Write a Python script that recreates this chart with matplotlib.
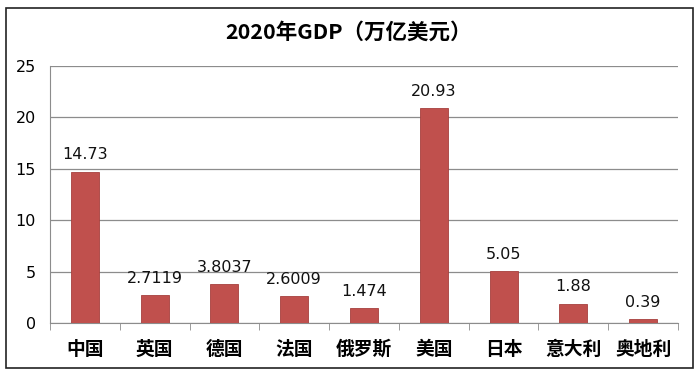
import matplotlib.pyplot as plt
from matplotlib.patches import Rectangle

plt.rcParams['font.family'] = ['Noto Sans CJK SC', 'DejaVu Sans']

countries = ["中国", "英国", "德国", "法国", "俄罗斯", "美国", "日本", "意大利", "奥地利"]
gdp = [14.73, 2.7119, 3.8037, 2.6009, 1.474, 20.93, 5.05, 1.88, 0.39]
value_labels = ["14.73", "2.7119", "3.8037", "2.6009", "1.474", "20.93", "5.05", "1.88", "0.39"]
yticks = [0, 5, 10, 15, 20, 25]

fig = plt.figure(figsize=(6.98, 3.78), dpi=100)
ax = fig.add_axes([50 / 698, 1 - 323 / 378, 628 / 698, 257 / 378])

# outer chart border
fig.patches.append(Rectangle((6 / 698, 1 - 368 / 378), 687 / 698, 360 / 378,
                             transform=fig.transFigure, fill=False,
                             edgecolor="#222222", linewidth=1.2))

x = list(range(len(countries)))
ax.bar(x, gdp, width=0.4, color="#C0504D", edgecolor="#A6403D", linewidth=0.6, zorder=3)

for xi, v, lab in zip(x, gdp, value_labels):
    ax.text(xi, v + 0.9, lab, ha="center", va="bottom", fontsize=11.5,
            family=["DejaVu Sans"], color="#111111")

ax.set_xlim(-0.5, len(countries) - 0.5)
ax.set_ylim(0, 25)
ax.set_yticks(yticks)
ax.set_yticklabels([str(t) for t in yticks], fontsize=11.5, family=["DejaVu Sans"])
ax.yaxis.grid(True, color="#8c8c8c", linewidth=0.9, zorder=0)
ax.tick_params(axis="y", length=0, pad=10)

# category boundary ticks on x axis
ax.set_xticks([i + 0.5 for i in range(-1, len(countries))], minor=True)
ax.set_xticks(x)
ax.set_xticklabels(countries, fontsize=13.5, fontweight="bold")
ax.tick_params(axis="x", which="major", length=0, pad=12)
ax.tick_params(axis="x", which="minor", length=5, color="#8c8c8c", direction="out")

for side in ["top", "right"]:
    ax.spines[side].set_visible(False)
ax.spines["left"].set_color("#8c8c8c")
ax.spines["bottom"].set_color("#8c8c8c")

fig.text(0.5, 1 - 32 / 378, "2020年GDP（万亿美元）", ha="center", va="center",
         fontsize=15.5, fontweight="bold")

fig.savefig("out.png", dpi=100)
